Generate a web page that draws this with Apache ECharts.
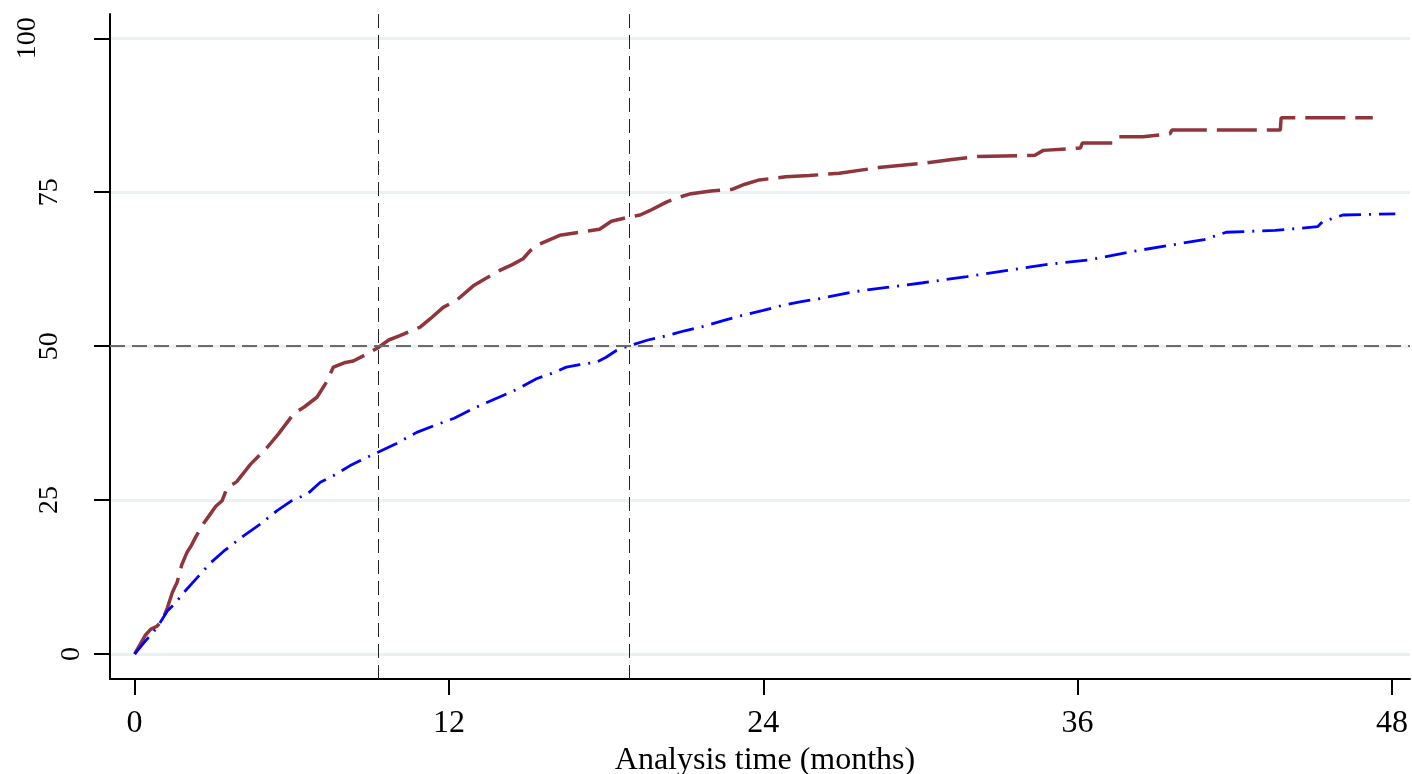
<!DOCTYPE html>
<html>
<head>
<meta charset="utf-8">
<script src="https://cdn.jsdelivr.net/npm/echarts@6/dist/echarts.min.js"></script>
<style>
  html, body { margin: 0; padding: 0; background: #fff; }
  #chart { width: 1412px; height: 774px; }
</style>
</head>
<body>
<div id="chart"></div>
<script>
// cumulative incidence (%), months on x
const redTime = [0, 0.2, 0.4, 0.61, 0.85, 1.05, 1.25, 1.44, 1.55, 1.62, 1.8, 2.0, 2.15, 2.32, 2.6, 2.9, 3.1, 3.34, 3.53, 3.9,
  4.42, 5.05, 5.5, 6.07, 6.5, 6.96, 7.3, 7.59, 8.0, 8.35, 8.86, 9.31, 9.7, 10.13, 10.9, 11.3, 11.78, 12.3, 12.93, 13.4,
  13.94, 14.4, 14.83, 15.1, 15.47, 16.23, 17.0, 17.75, 18.2, 18.9, 19.3, 19.66, 20.3, 20.8, 21.18, 22.0, 22.83, 23.3, 23.85, 24.86,
  25.75, 26.9, 28.4, 30.1, 31.2, 32.17, 34.37, 34.69, 36.11, 36.18, 37.34, 37.53, 38.5, 39.53, 39.6, 43.74, 43.77, 47.27]
const redPct = [0, 1.5, 3.0, 4.0, 4.5, 5.4, 7.5, 10.0, 11.0, 11.6, 14.5, 16.5, 17.5, 18.9, 21.0, 22.8, 24.0, 24.9, 27.0, 28.0,
  30.8, 33.5, 35.8, 39.0, 40.2, 41.7, 44.0, 46.6, 47.3, 47.6, 48.7, 49.8, 51.0, 51.7, 53.1, 54.5, 56.3, 57.5, 59.8, 61.0,
  62.3, 63.2, 64.2, 65.5, 66.6, 68.0, 68.5, 69.0, 70.3, 71.0, 71.3, 72.0, 73.4, 74.2, 74.7, 75.2, 75.5, 76.3, 77.0, 77.5,
  77.7, 78.1, 79.0, 79.7, 80.3, 80.8, 81.0, 81.8, 82.2, 83.0, 83.0, 84.0, 84.0, 84.5, 85.1, 85.1, 87.1, 87.1]

const blueTime = [0, 0.35, 0.86, 1.25, 1.56, 1.88, 2.39, 2.9, 3.4, 4.16, 4.8, 5.44, 6.0, 6.6, 7.09, 7.6, 8.23, 8.8, 9.31, 10.0,
  10.77, 11.5, 12.2, 13.0, 13.8, 14.6, 15.34, 16.0, 16.48, 17.0, 17.63, 18.0, 18.39, 18.9, 19.6, 20.3, 21.0, 21.81, 22.5, 23.2,
  24.0, 24.7, 25.4, 26.13, 27.4, 28.42, 30.1, 31.78, 33.33, 34.88, 36.43, 37.98, 39.4, 40.83, 41.67, 43.54, 45.16, 45.35, 46.13, 48.13]
const bluePct = [0, 1.8, 4.3, 7.0, 8.3, 10.0, 12.4, 14.8, 16.7, 19.2, 21.1, 23.3, 24.9, 26.0, 27.9, 29.0, 30.6, 31.8, 32.8, 34.2,
  36.0, 37.2, 38.3, 40.0, 41.5, 43.0, 44.7, 45.7, 46.6, 47.0, 47.4, 48.2, 49.3, 50.1, 51.0, 51.7, 52.5, 53.3, 54.2, 55.0,
  55.8, 56.6, 57.2, 57.7, 58.8, 59.4, 60.3, 61.3, 62.3, 63.3, 64.0, 65.3, 66.3, 67.3, 68.5, 68.8, 69.4, 70.2, 71.3, 71.5]

const xTicks = [0, 12, 24, 36, 48]
const yTicks = [0, 25, 50, 75, 100]
const medians = [9.29, 18.87]   // time at which each curve crosses 50
const halfLine = 50

const pairs = (xs, ys) => xs.map((x, i) => [x, ys[i]])
const serif = '"Liberation Serif", "Times New Roman", serif'

const chart = echarts.init(document.getElementById('chart'))

chart.setOption({
  animation: false,
  backgroundColor: '#fff',
  grid: { left: 110, right: 2, top: 14, bottom: 95, outerBoundsMode: 'none', containLabel: false },
  xAxis: {
    type: 'value',
    min: -0.94,
    max: 48.69,
    name: 'Analysis time (months)',
    nameLocation: 'middle',
    nameGap: 65,
    nameTextStyle: { fontFamily: serif, fontSize: 32, color: '#000', padding: [0, 0, 0, 10] },
    axisLine: { onZero: false, lineStyle: { color: '#000', width: 2 } },
    axisTick: { customValues: xTicks, length: 16, lineStyle: { color: '#000', width: 2 } },
    axisLabel: { customValues: xTicks, fontFamily: serif, fontSize: 32, color: '#000', margin: 29 },
    splitLine: { show: false }
  },
  yAxis: {
    type: 'value',
    min: -4.06,
    max: 103.95,
    axisLine: { show: true, onZero: false, lineStyle: { color: '#000', width: 2 } },
    axisTick: { show: true, customValues: yTicks, length: 16, lineStyle: { color: '#000', width: 2 } },
    axisLabel: {
      customValues: yTicks,
      rotate: 90,
      fontFamily: serif,
      fontSize: 28,
      color: '#000',
      margin: 24,
      // longer labels sit further out, like the original
      formatter: v => `{p${String(v).length}|${v}}`,
      rich: {
        p1: { padding: [0, 0, 0, 0] },
        p2: { padding: [0, 0, 22, 0] },
        p3: { padding: [0, 0, 44, 0] }
      }
    },
    splitLine: { show: true, lineStyle: { color: '#EAF1F3', width: 3 } }
  },
  series: [
    {
      name: 'red',
      type: 'line',
      data: pairs(redTime, redPct),
      showSymbol: false,
      z: 3,
      lineStyle: { color: '#90353B', width: 3.5, type: [40, 10] },
      markLine: {
        silent: true,
        symbol: 'none',
        label: { show: false },
        data: [
          { yAxis: halfLine, lineStyle: { color: '#6b6b6b', width: 2, type: [15, 7] } },
          { xAxis: medians[0], lineStyle: { color: '#222', width: 1, type: [14, 7] } },
          { xAxis: medians[1], lineStyle: { color: '#222', width: 1, type: [14, 7] } }
        ]
      }
    },
    {
      name: 'blue',
      type: 'line',
      data: pairs(blueTime, bluePct),
      showSymbol: false,
      z: 4,
      lineStyle: { color: '#0000FF', width: 2.8, type: [22, 8, 2, 8] }
    }
  ]
})
</script>
</body>
</html>
